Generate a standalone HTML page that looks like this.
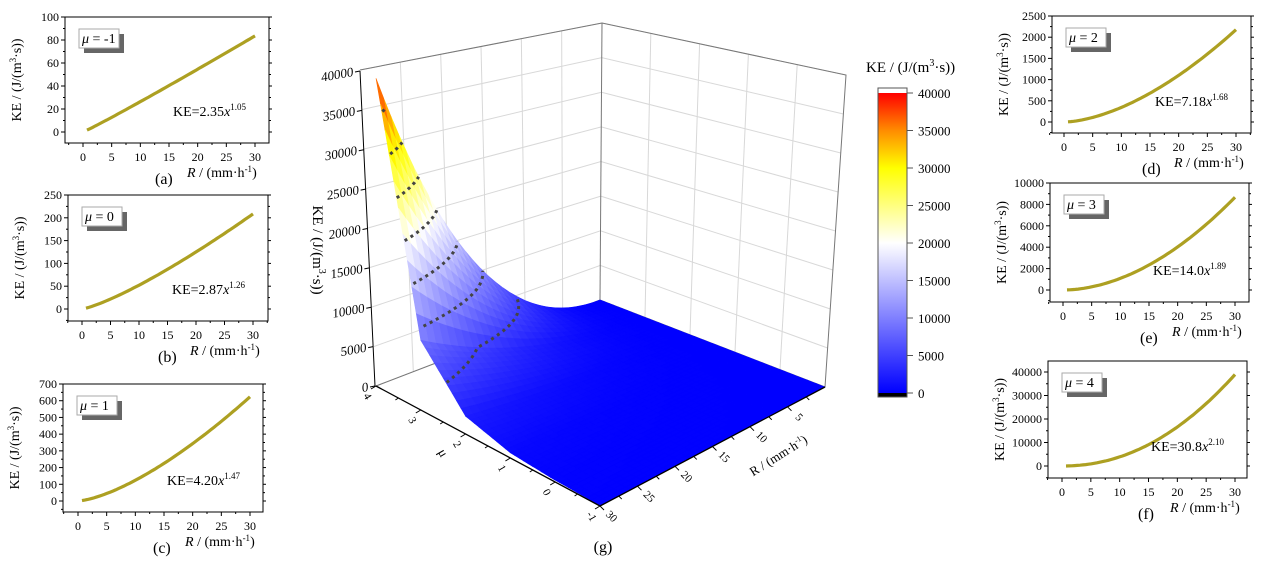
<!DOCTYPE html>
<html><head><meta charset="utf-8">
<style>
html,body{margin:0;padding:0;background:#fff;}
svg{display:block;font-family:"Liberation Serif",serif;}
</style></head>
<body>
<svg id="fig" width="1262" height="561" viewBox="0 0 1262 561" xmlns="http://www.w3.org/2000/svg"></svg>
<script>
// ---- data ----
const muVals = [-1, 0, 1, 2, 3, 4];
const aVals = [2.35, 2.87, 4.20, 7.18, 14.0, 30.8];
const bVals = [1.05, 1.26, 1.47, 1.68, 1.89, 2.10];
const aLabels = ["2.35", "2.87", "4.20", "7.18", "14.0", "30.8"];
const bLabels = ["1.05", "1.26", "1.47", "1.68", "1.89", "2.10"];
const yMaxTicks = [100, 250, 700, 2500, 10000, 40000];
const yTickSteps = [20, 50, 100, 500, 2000, 10000];
const captions = ["(a)", "(b)", "(c)", "(d)", "(e)", "(f)"];
const rTicks = [0, 5, 10, 15, 20, 25, 30];
const zTicks = [0, 5000, 10000, 15000, 20000, 25000, 30000, 35000, 40000];
const mu3dTicks = [4, 3, 2, 1, 0, -1];
const r3dTicks = [30, 25, 20, 15, 10, 5];
const contourLevels = [5000, 10000, 15000, 20000, 25000, 30000, 35000];
const cbTicks = [0, 5000, 10000, 15000, 20000, 25000, 30000, 35000, 40000];

const NS = "http://www.w3.org/2000/svg";
const svg = document.getElementById("fig");
function mk(tag, attrs, parent) {
  const e = document.createElementNS(NS, tag);
  for (const k in attrs) e.setAttribute(k, attrs[k]);
  (parent || svg).appendChild(e);
  return e;
}

// ---- small panels ----
const panels = [
  {l:65,t:17,r:269,b:143,y0:132,yTop:17,x0:83,x30:255},
  {l:68,t:195,r:268,b:321,y0:309,yTop:195,x0:82,x30:253},
  {l:63,t:384,r:263,b:512,y0:501,yTop:384,x0:78,x30:250},
  {l:1052,t:16,r:1251,b:133,y0:122,yTop:16,x0:1064,x30:1236},
  {l:1050,t:183,r:1249,b:302,y0:290,yTop:183,x0:1063,x30:1235},
  {l:1048,t:361,r:1247,b:478,y0:466,yTop:372,x0:1062,x30:1235}
];
panels.forEach((p, i) => {
  const g = mk("g", {});
  
  
  const ymax = yMaxTicks[i], st = yTickSteps[i];
  const sy = v => p.y0 - (v / ymax) * (p.y0 - p.yTop);
  const sx = v => p.x0 + (v / 30) * (p.x30 - p.x0);
  const fr = mk("rect", {x:p.l, y:p.t, width:p.r-p.l, height:p.b-p.t, fill:"none", stroke:"#000", "stroke-width":1}, g);
  
  
  for (let v = 0; v <= ymax + 1e-9; v += st) {
    const y = sy(v);
    mk("line", {x1:p.l-4, x2:p.l, y1:y, y2:y, stroke:"#000"}, g);
    mk("line", {x1:p.r, x2:p.r+3, y1:y, y2:y, stroke:"#000"}, g);
    const tx = mk("text", {x:p.l-6, y:y+4, "font-size":12, "text-anchor":"end"}, g);
    tx.textContent = v;
    
    
    const ym = sy(v + st / 2);
    if (ym > p.t) {
      mk("line", {x1:p.l-2, x2:p.l, y1:ym, y2:ym, stroke:"#000"}, g);
      mk("line", {x1:p.r, x2:p.r+2, y1:ym, y2:ym, stroke:"#000"}, g);
    }
  }
  const ym2 = sy(-st / 2);
  if (ym2 < p.b) mk("line", {x1:p.l-2, x2:p.l, y1:ym2, y2:ym2, stroke:"#000"}, g);
  rTicks.forEach(v => {
    const x = sx(v);
    mk("line", {x1:x, x2:x, y1:p.b, y2:p.b+4, stroke:"#000"}, g);
    const xm = sx(v + 2.5);
    if (xm < p.r) mk("line", {x1:xm, x2:xm, y1:p.b, y2:p.b+2, stroke:"#000"}, g);
    const tx = mk("text", {x:x, y:p.b+18, "font-size":12, "text-anchor":"middle"}, g);
    tx.textContent = v;
    
    
  });
  mk("line", {x1:sx(-2.5), x2:sx(-2.5), y1:p.b, y2:p.b+2, stroke:"#000"}, g);
  let d = "";
  for (let k = 0; k <= 60; k++) {
    const R = 0.7 + k * (30 - 0.7) / 60;
    const v = aVals[i] * Math.pow(R, bVals[i]);
    d += (k ? "L" : "M") + sx(R).toFixed(1) + " " + sy(v).toFixed(1);
  }
  const cv = mk("path", {d:d, fill:"none", stroke:"#ada022", "stroke-width":3.2}, g);
  
  
  mk("rect", {x:p.l+19, y:p.t+17, width:40, height:19, fill:"#666"}, g);
  const lb = mk("rect", {x:p.l+14, y:p.t+12, width:40, height:19, fill:"#fff", stroke:"#aaa"}, g);
  
  
  const lt = mk("text", {x:p.l+17, y:p.t+26, "font-size":14}, g);
  lt.innerHTML = '<tspan font-style="italic">μ</tspan> = ' + muVals[i];
  
  
  const eq = mk("text", {x:p.r-96, y:p.b-27, "font-size":14}, g);
  eq.innerHTML = 'KE=' + aLabels[i] + '<tspan font-style="italic">x</tspan><tspan font-size="9" dy="-6">' + bLabels[i] + '</tspan>';
  
  
  const cy = (p.t + p.b) / 2, cx = p.l - 44;
  const yl = mk("text", {x:cx, y:cy, "font-size":14, "text-anchor":"middle", transform:`rotate(-90 ${cx} ${cy})`}, g);
  yl.innerHTML = 'KE / (J/(m<tspan font-size="9" dy="-5">3</tspan><tspan dy="5">·s))</tspan>';
  
  
  const xl = mk("text", {x:p.l+122, y:p.b+34, "font-size":14}, g);
  xl.innerHTML = '<tspan font-style="italic">R</tspan> / (mm·h<tspan font-size="9" dy="-5">-1</tspan><tspan dy="5">)</tspan>';
  
  
  const cp = mk("text", {x:p.l+90, y:p.b+41, "font-size":16}, g);
  cp.textContent = captions[i];
  
  
});

// ---- 3D surface ----
const g3 = mk("g", {});


const C = {L:[376,386,316,-16], F:[600,506,345,0], Rt:[825,387,312,21], B:[600,300,277,2]};
function bil(u, v, k) {
  return (1-u)*(1-v)*C.B[k] + (1-u)*v*C.L[k] + u*v*C.F[k] + u*(1-v)*C.Rt[k];
}
function P(mu, R, z, tiltOn) {
  const u = (4 - mu) / 5, v = R / 30;
  const x = bil(u, v, 0), y = bil(u, v, 1), h = bil(u, v, 2), t = tiltOn ? bil(u, v, 3) : 0;
  const f = z / 40000;
  return [x + t * f, y - h * f];
}
function KE(mu, R) {
  let i = Math.min(4, Math.max(0, Math.floor(mu + 1)));
  const fr = mu + 1 - i;
  const k1 = aVals[i] * Math.pow(R, bVals[i]);
  const k2 = aVals[i+1] * Math.pow(R, bVals[i+1]);
  return k1 * (1 - fr) + k2 * fr;
}
function cmap(z) {
  const s = Math.max(0, Math.min(1, z / 40000));
  const st = [[0,[0,0,255]],[0.5,[255,255,255]],[0.75,[255,255,0]],[0.875,[255,140,0]],[1,[255,0,0]]];
  for (let i = 0; i < st.length - 1; i++) {
    if (s <= st[i+1][0]) {
      const f = (s - st[i][0]) / (st[i+1][0] - st[i][0]);
      const c = st[i][1].map((a, j) => Math.round(a + (st[i+1][1][j] - a) * f));
      return `rgb(${c[0]},${c[1]},${c[2]})`;
    }
  }
  return "rgb(255,0,0)";
}
const pstr = p => p[0].toFixed(1) + "," + p[1].toFixed(1);
const grid = "#d8d8d8";
const wallG = mk("g", {}, g3);


zTicks.forEach(z => {
  mk("polyline", {points:[P(4,30,z,1),P(4,0,z,1),P(-1,0,z,1)].map(pstr).join(" "), fill:"none", stroke:grid}, wallG);
});
[5,10,15,20,25].forEach(R => {
  mk("line", {x1:P(4,R,0,1)[0], y1:P(4,R,0,1)[1], x2:P(4,R,40000,1)[0], y2:P(4,R,40000,1)[1], stroke:grid}, wallG);
});
[3,2,1,0].forEach(m => {
  mk("line", {x1:P(m,0,0,1)[0], y1:P(m,0,0,1)[1], x2:P(m,0,40000,1)[0], y2:P(m,0,40000,1)[1], stroke:grid}, wallG);
});
const edge = "#777";
mk("polyline", {points:[P(4,30,40000,1),P(4,0,40000,1),P(-1,0,40000,1),P(-1,0,0,1)].map(pstr).join(" "), fill:"none", stroke:edge}, wallG);
mk("line", {x1:P(4,0,0,1)[0], y1:P(4,0,0,1)[1], x2:P(4,0,40000,1)[0], y2:P(4,0,40000,1)[1], stroke:edge}, wallG);
mk("polyline", {points:[P(4,30,0,1),P(4,0,0,1),P(-1,0,0,1)].map(pstr).join(" "), fill:"none", stroke:edge}, wallG);
const quads = [];
const dm = 0.1, dR = 1;
for (let mu = -1; mu < 4 - 1e-9; mu += dm) {
  for (let R = 0; R < 30 - 1e-9; R += dR) {
    const c = [[mu,R],[mu+dm,R],[mu+dm,R+dR],[mu,R+dR]];
    const zs = c.map(q => KE(q[0], Math.max(q[1], 0.001)));
    const depth = (mu + dm/2 + 1) / 5 + (30 - R - dR/2) / 30;
    quads.push({c, zs, depth});
  }
}
quads.sort((a, b) => b.depth - a.depth);
const meshG = mk("g", {}, g3);


quads.forEach(q => {
  const pts = q.c.map((cc, j) => P(cc[0], cc[1], q.zs[j], 0));
  const avg = (q.zs[0] + q.zs[1] + q.zs[2] + q.zs[3]) / 4;
  const col = cmap(avg);
  mk("polygon", {points:pts.map(pstr).join(" "), fill:col, stroke:col, "stroke-width":0.6}, meshG);
});
const contG = mk("g", {}, g3);


contourLevels.forEach(lv => {
  const pts = [];
  for (let mu = -1; mu <= 4.0001; mu += 0.02) {
    if (KE(mu, 30) < lv) continue;
    let lo = 0.001, hi = 30;
    for (let k = 0; k < 40; k++) { const m = (lo + hi) / 2; if (KE(mu, m) < lv) lo = m; else hi = m; }
    pts.push(P(mu, lo, lv, 0));
  }
  if (pts.length > 1) {
    const cl = mk("polyline", {points:pts.map(pstr).join(" "), fill:"none", stroke:"#444", "stroke-width":3, "stroke-dasharray":"3 4"}, contG);
    
    
  }
});
const axG = mk("g", {}, g3);


mk("line", {x1:375, y1:386, x2:360, y2:71, stroke:"#000"}, axG);
zTicks.forEach(z => {
  const f = z / 40000, x = 375 - 15 * f, y = 386 - 315 * f;
  mk("line", {x1:x-5, y1:y+1, x2:x, y2:y, stroke:"#000"}, axG);
  const t = mk("text", {x:x-7, y:y+5, "font-size":13, "font-style":"italic", "text-anchor":"end", transform:`rotate(-10 ${x-7} ${y})`}, axG);
  t.textContent = z;
  
  
});
const pL = P(4,30,0,0), pF = P(-1,30,0,0), pR = P(-1,0,0,0);
mk("line", {x1:pL[0], y1:pL[1], x2:pF[0], y2:pF[1], stroke:"#000", "stroke-width":1.3}, axG);
mk("line", {x1:pF[0], y1:pF[1], x2:pR[0], y2:pR[1], stroke:"#000", "stroke-width":1.3}, axG);
mu3dTicks.forEach(m => {
  const p = P(m, 30, 0, 0);
  mk("line", {x1:p[0], y1:p[1], x2:p[0]-5, y2:p[1]+3, stroke:"#000"}, axG);
  const q = P(m - 0.5, 30, 0, 0);
  if (m > -1) mk("line", {x1:q[0], y1:q[1], x2:q[0]-3, y2:q[1]+2, stroke:"#000"}, axG);
  const tx = p[0] - 8, ty = p[1] + 14;
  const t = mk("text", {x:tx, y:ty, "font-size":11, "text-anchor":"middle", transform:`rotate(60 ${tx} ${ty-4})`}, axG);
  t.textContent = m;
  
  
});
r3dTicks.forEach(R => {
  const p = P(-1, R, 0, 0);
  mk("line", {x1:p[0], y1:p[1], x2:p[0]+4, y2:p[1]+4, stroke:"#000"}, axG);
  const q = P(-1, R - 2.5, 0, 0);
  mk("line", {x1:q[0], y1:q[1], x2:q[0]+3, y2:q[1]+3, stroke:"#000"}, axG);
  const tx = p[0] + 12, ty = p[1] + 14;
  const t = mk("text", {x:tx, y:ty, "font-size":11, "text-anchor":"middle", transform:`rotate(45 ${tx} ${ty-4})`}, axG);
  t.textContent = R;
  
  
});
const mt = mk("text", {x:443, y:457, "font-size":13, "text-anchor":"middle", transform:"rotate(60 443 453)"}, axG);
mt.textContent = "μ";


const rt = mk("text", {x:778, y:460, "font-size":13, "text-anchor":"middle", transform:"rotate(-32 778 455)"}, axG);
rt.innerHTML = 'R / (mm·h<tspan font-size="8" dy="-5">-1</tspan><tspan dy="5">)</tspan>';


const zt = mk("text", {x:313, y:250, "font-size":15, "text-anchor":"middle", transform:"rotate(90 313 250)"}, axG);
zt.innerHTML = 'KE / (J/(m<tspan font-size="10" dy="-6">3</tspan><tspan dy="6">·s))</tspan>';


const gcap = mk("text", {x:603, y:552, "font-size":16, "text-anchor":"middle"});
gcap.textContent = "(g)";



// ---- colorbar ----
const cbG = mk("g", {});


const defs = mk("defs", {}, cbG);
const lg = mk("linearGradient", {id:"cbgrad", x1:0, y1:1, x2:0, y2:0}, defs);
[[0,"#0000ff"],[0.5,"#ffffff"],[0.75,"#ffff00"],[0.875,"#ff8c00"],[1,"#ff0000"]].forEach(s => {
  mk("stop", {offset:s[0], "stop-color":s[1]}, lg);
});
const cby = v => 393 - (v / 40000) * 300;
mk("rect", {x:878, y:88, width:29, height:309, fill:"#fff", stroke:"#555"}, cbG);
mk("rect", {x:878, y:cby(40000), width:29, height:300, fill:"url(#cbgrad)"}, cbG);
mk("rect", {x:878, y:cby(0), width:29, height:4, fill:"#000"}, cbG);
mk("rect", {x:878, y:88, width:29, height:309, fill:"none", stroke:"#555"}, cbG);
cbTicks.forEach(v => {
  const y = cby(v);
  mk("line", {x1:907, x2:913, y1:y, y2:y, stroke:"#555"}, cbG);
  const t = mk("text", {x:918, y:y+5, "font-size":13}, cbG);
  t.textContent = v;
  
  
});
const cbt = mk("text", {x:866, y:72, "font-size":15}, cbG);
cbt.innerHTML = 'KE / (J/(m<tspan font-size="10" dy="-6">3</tspan><tspan dy="6">·s))</tspan>';


</script>
</body></html>
